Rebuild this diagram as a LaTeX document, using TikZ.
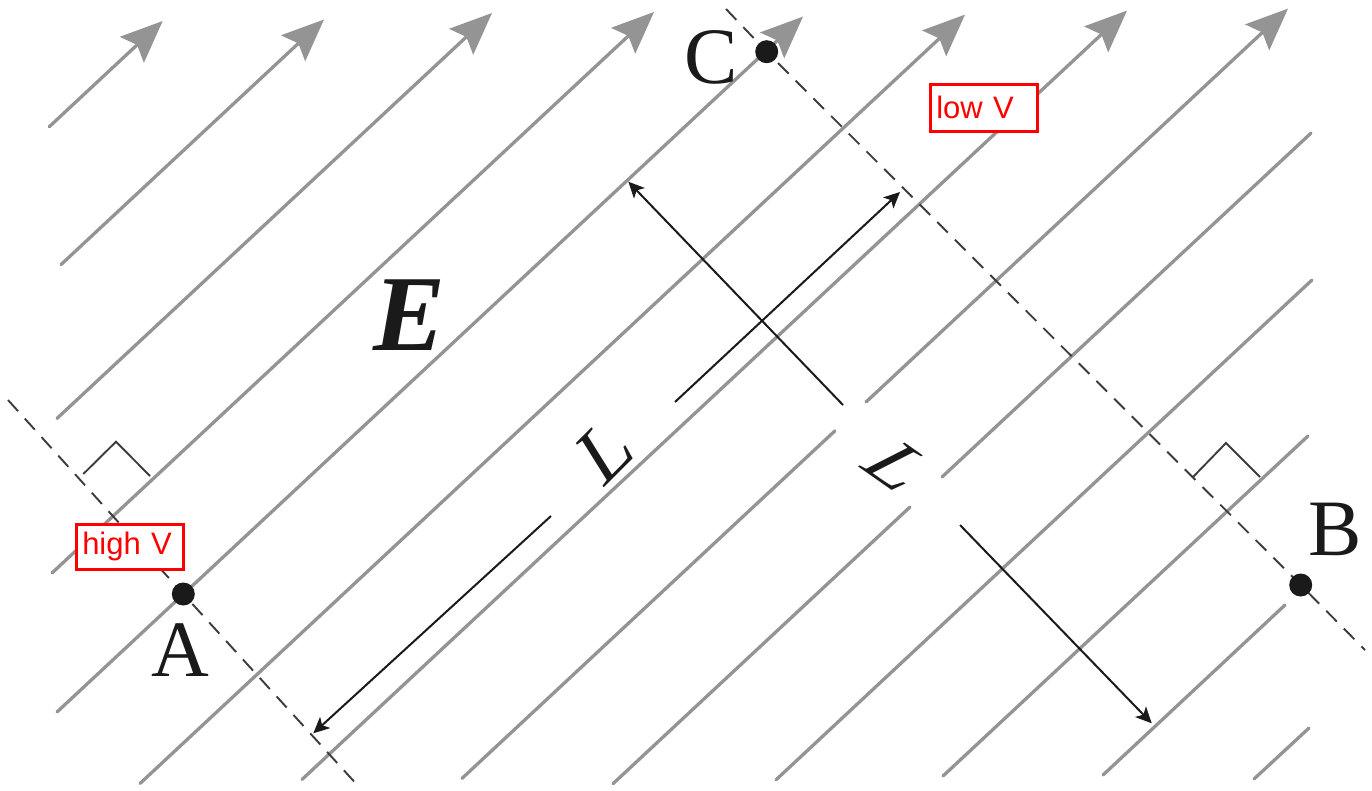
\documentclass[tikz,border=0pt]{standalone}
\usepackage{fontspec}
\setmainfont{Liberation Serif}
\newfontfamily\sansf{Liberation Sans}
\usetikzlibrary{arrows.meta}
\definecolor{fieldgray}{RGB}{148,148,148}
\definecolor{ink}{RGB}{26,26,26}
\begin{document}
\begin{tikzpicture}[x=1pt,y=-1pt,
  field/.style={draw=fieldgray, line width=3.3pt, line cap=round},
  fieldarrow/.style={field, -{Stealth[length=42pt,width=35pt,inset=7pt]}},
  dimline/.style={draw=ink, line width=2pt},
  dimarrow/.style={dimline, -{Stealth[length=16pt,width=15pt,inset=4pt]}},
  equip/.style={draw=ink!85, line width=1.9pt, dash pattern=on 15pt off 10pt},
  rightmark/.style={draw=ink!85, line width=1.9pt},
  dot/.style={circle, fill=ink, inner sep=0pt, minimum size=23pt},
  letter/.style={font=\fontsize{80}{80}\selectfont, text=ink, inner sep=0pt},
  redbox/.style={draw=red, line width=2.5pt, fill=white,
    font=\sansf\fontsize{31}{32}\selectfont, text=red, minimum height=45pt,
    text width=95pt, align=left, inner xsep=6pt, inner ysep=0pt, anchor=north west}
]
\fill[white] (0,0) rectangle (1372,790);
\useasboundingbox (0,0) rectangle (1372,790);

% key points
\coordinate (A) at (183.3,594);
\coordinate (C) at (766.7,51.7);
\coordinate (B) at (1300.7,585);

% field lines (gray)
\draw[fieldarrow] (49.3,126.7) -- (162.7,21);
\draw[fieldarrow] (61,264.6) -- (324,19.5);
\draw[fieldarrow] (57,418.4) -- (492,13);
\draw[fieldarrow] (52,573) -- (654,12);
\draw[fieldarrow] (57,712) -- (803,16.6);
\draw[fieldarrow] (140,783.5) -- (965,14.6);
\draw[fieldarrow] (302,779.5) -- (1127,10.6);
\draw[field] (462,778.4) -- (835,430.8);
\draw[fieldarrow] (866,402) -- (1288,8.6);
\draw[field] (613,783.7) -- (910,507);
\draw[field] (942,477) -- (1311,133.1);
\draw[field] (776,779.8) -- (1312,280);
\draw[field] (943,776) -- (1308,436);
\draw[field] (1103,775) -- (1285,605);
\draw[field] (1254,779) -- (1309,728);

% equipotential dashed lines
\draw[equip] (8,400) -- (A) -- (360,788);
\draw[equip] (726,9) -- (C) -- (B) -- (1365,650);

% right-angle marks
\draw[rightmark] (83.3,474) -- (116,441.7) -- (150,476);
\draw[rightmark] (1193,477) -- (1226,443) -- (1260,477);

% dimension arrows
\coordinate (P1) at (628.3,181.7);
\coordinate (P2) at (843,405);
\coordinate (P3) at (960,525);
\coordinate (P4) at (1151.7,723.3);
\draw[dimarrow] (P2) -- (P1);
\draw[dimarrow] (P3) -- (P4);
\coordinate (Q1) at (900,192);
\coordinate (Q2) at (675,402);
\coordinate (Q3) at (551,516);
\coordinate (Q4) at (313.3,733.3);
\draw[dimarrow] (Q2) -- (Q1);
\draw[dimarrow] (Q3) -- (Q4);

% points
\node[dot] (dA) at (A) {};
\node[dot] (dB) at (B) {};
\node[dot] (dC) at (C) {};

% labels
\node[letter] (labA) at (180,650) {A};
\node[letter] (labB) at (1335,529) {B};
\node[letter] (labC) at (711,57) {C};
\node[inner sep=0pt, text=ink, font=\fontsize{108}{108}\selectfont\bfseries\itshape] (labE) at (410,315) {E};
\begin{scope}[shift={(606,450)}, cm={0.707,0.707,-0.53,0.848,(0,0)}]
  \node[letter, transform shape] (L1) {L};
\end{scope}
\begin{scope}[shift={(900,468)}, cm={0.819,-0.574,0.891,0.454,(0,0)}]
  \node[letter, transform shape] (L2) {L};
\end{scope}

% red boxes
\node[redbox] (high) at (75,523) {high V};
\node[redbox, minimum height=47pt] (low) at (929,83) {low V};
\end{tikzpicture}
\end{document}
